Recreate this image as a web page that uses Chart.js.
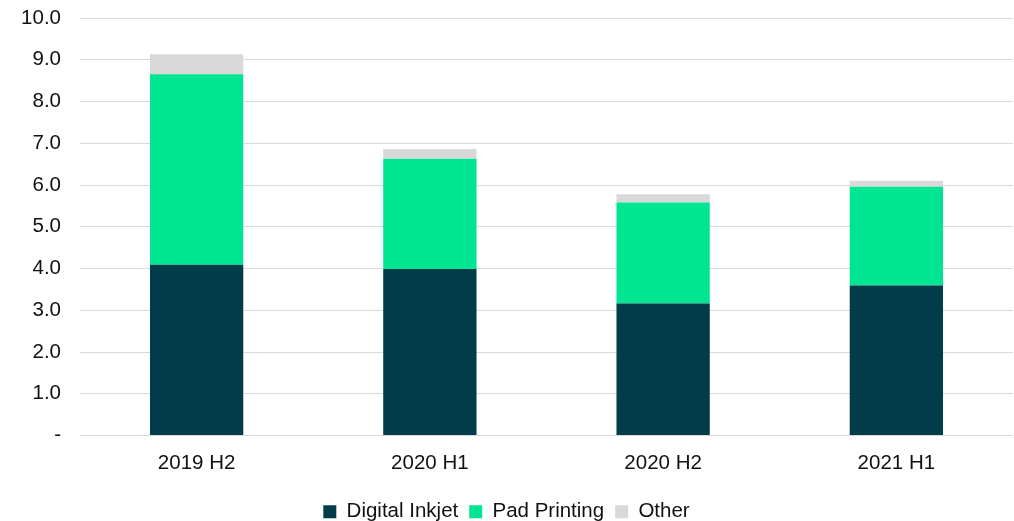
<!DOCTYPE html>
<html>
<head>
<meta charset="utf-8">
<script src="https://cdn.jsdelivr.net/npm/chart.js@4/dist/chart.umd.min.js"></script>
<style>
  html, body { margin: 0; padding: 0; background: #fff; }
  #wrap { width: 1014px; height: 521px; }
</style>
</head>
<body>
<div id="wrap"><canvas id="myChart" width="1014" height="521"></canvas></div>
<script>
// periods and stacked volumes per technology
const periods = ["2019 H2", "2020 H1", "2020 H2", "2021 H1"];
const digitalInkjet = [4.09, 3.99, 3.16, 3.59];
const padPrinting = [4.56, 2.64, 2.42, 2.37];
const other = [0.48, 0.23, 0.20, 0.14];

const font = { family: "'Liberation Sans', Arial, sans-serif", size: 20.5 };

const ctx = document.getElementById("myChart").getContext("2d");
const myChart = new Chart(ctx, {
    type: 'bar',
    data: {
        labels: periods,
        datasets: [
            { label: 'Digital Inkjet', data: digitalInkjet, backgroundColor: '#023B4A' },
            { label: 'Pad Printing', data: padPrinting, backgroundColor: '#00E591' },
            { label: 'Other', data: other, backgroundColor: '#D9D9D9' }
        ]
    },
    options: {
        responsive: false,
        animation: false,
        layout: { padding: { left: 0, right: 1, top: 18, bottom: -11 } },
        datasets: {
            bar: { categoryPercentage: 1.0, barPercentage: 0.4 }
        },
        scales: {
            x: {
                stacked: true,
                grid: { display: false, drawTicks: false },
                border: { display: false },
                ticks: { color: '#111', font: font, padding: 16 },
                afterFit: scale => { scale.height = 55; }
            },
            y: {
                stacked: true,
                min: 0,
                max: 10,
                grid: { color: '#D9D9D9', lineWidth: 1, drawTicks: false },
                border: { display: false },
                ticks: {
                    stepSize: 1,
                    color: '#111',
                    font: font,
                    padding: 19,
                    callback: v => v === 0 ? '-' : v.toFixed(1)
                },
                afterFit: scale => {
                    scale.width = 80;
                    scale.paddingTop = 0;
                    scale.paddingBottom = 0;
                }
            }
        },
        plugins: {
            legend: {
                position: 'bottom',
                labels: {
                    color: '#111',
                    font: font,
                    boxWidth: 13,
                    boxHeight: 13,
                    padding: 11
                }
            },
            tooltip: { enabled: false }
        }
    }
});
</script>
</body>
</html>
